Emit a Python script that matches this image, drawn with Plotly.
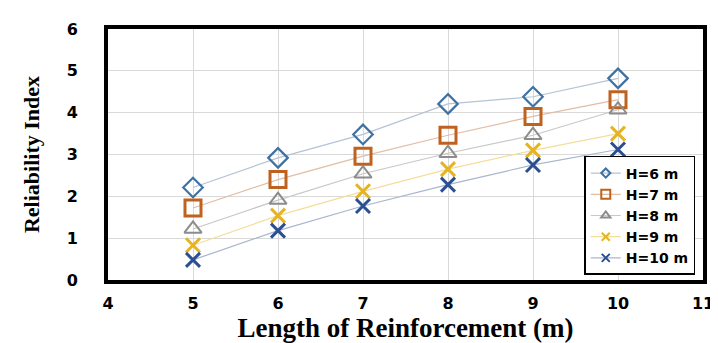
import plotly.graph_objects as go

lengths = [5, 6, 7, 8, 9, 10]
series_names = ["H=6 m", "H=7 m", "H=8 m", "H=9 m", "H=10 m"]
h6 = [2.21, 2.92, 3.48, 4.21, 4.38, 4.82]
h7 = [1.72, 2.40, 2.96, 3.46, 3.91, 4.31]
h8 = [1.22, 1.91, 2.54, 3.03, 3.46, 4.07]
h9 = [0.83, 1.54, 2.12, 2.65, 3.10, 3.50]
h10 = [0.48, 1.18, 1.77, 2.28, 2.75, 3.12]
values = [h6, h7, h8, h9, h10]
x_ticks = [4, 5, 6, 7, 8, 9, 10, 11]
y_ticks = [0, 1, 2, 3, 4, 5, 6]

marker_colors = ["#3F72A4", "#C0621F", "#8C8C8C", "#E6B422", "#2B4F93"]
line_colors = ["#B4C3D6", "#E3BDA3", "#C8C8C8", "#F3DE9A", "#A9B5CF"]
symbols = ["diamond-open", "square-open", "triangle-up-open", "x-thin-open", "x-thin-open"]
sizes = [15, 16, 15, 14, 14]
widths = [2.2, 3, 2, 3, 3]
legend_sizes = [7, 9, 8, 8, 8]

fig = go.Figure()
for name, vals, mc, lc, sym, sz, w, ls in zip(series_names, values, marker_colors, line_colors,
                                               symbols, sizes, widths, legend_sizes):
    fig.add_trace(go.Scatter(
        x=lengths, y=vals, name=name, mode="lines+markers", showlegend=False,
        line=dict(color=lc, width=1.2),
        marker=dict(symbol=sym, size=sz, color=mc, line=dict(color=mc, width=w)),
    ))
    # legend entry (small marker as in the reference legend)
    fig.add_trace(go.Scatter(
        x=[None], y=[None], name="<b>" + name + "</b>", mode="lines+markers", showlegend=True,
        line=dict(color=lc, width=1.2),
        marker=dict(symbol=sym, size=ls, color=mc, line=dict(color=mc, width=2)),
    ))

tick_font = dict(family="DejaVu Sans, sans-serif", size=16, color="black")
x_title_font = dict(family="Liberation Serif, Times New Roman, serif", size=27, color="black")
y_title_font = dict(family="Liberation Serif, Times New Roman, serif", size=22, color="black")

fig.update_layout(
    width=718, height=343,
    margin=dict(l=100, r=12, t=17, b=71),
    paper_bgcolor="white", plot_bgcolor="white",
    showlegend=True,
    legend=dict(
        x=0.987, y=0.02, xanchor="right", yanchor="bottom",
        bgcolor="white", bordercolor="black", borderwidth=1.5,
        font=dict(family="DejaVu Sans, sans-serif", size=14, color="black"),
        itemwidth=30, tracegroupgap=0,
    ),
    xaxis=dict(
        range=[4, 11], tickvals=x_ticks, ticktext=["<b>%d</b>" % v for v in x_ticks],
        showgrid=True, gridcolor="#D9D9D9", gridwidth=1,
        showline=True, linecolor="black", linewidth=4, mirror=True,
        zeroline=False, ticks="", tickfont=tick_font, ticklabelstandoff=6,
        title=dict(text="<b>Length of Reinforcement (m)</b>", font=x_title_font, standoff=4),
    ),
    yaxis=dict(
        range=[0, 6], tickvals=y_ticks, ticktext=["<b>%d</b>" % v for v in y_ticks],
        showgrid=True, gridcolor="#D9D9D9", gridwidth=1,
        showline=True, linecolor="black", linewidth=4, mirror=True,
        zeroline=False, ticks="", tickfont=tick_font, ticklabelstandoff=23,
        title=dict(text="<b>Reliability Index</b>", font=y_title_font, standoff=22),
    ),
)

fig.write_html("out.html")
